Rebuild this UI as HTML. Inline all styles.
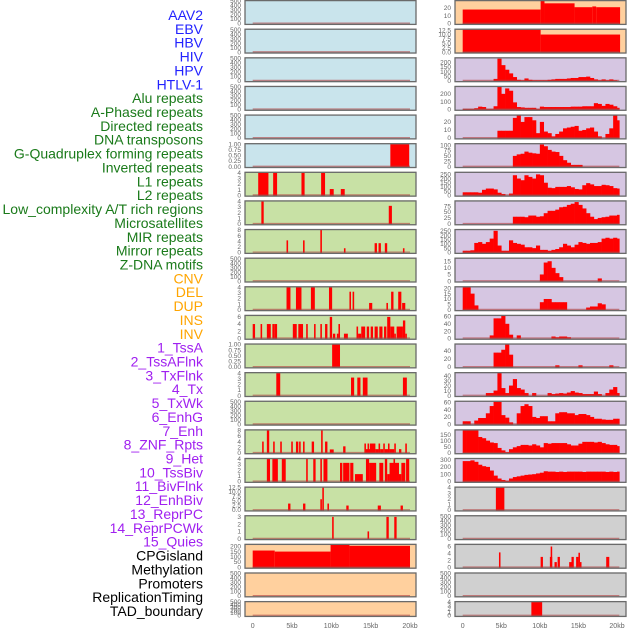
<!DOCTYPE html>
<html><head><meta charset="utf-8"><style>
html,body{margin:0;padding:0;background:#fff;}
svg{display:block;font-family:"Liberation Sans",sans-serif;}
</style></head><body>
<svg id="chart" width="630" height="630" viewBox="0 0 630 630"></svg>
<script>
const labelNames = ["AAV2","EBV","HBV","HIV","HPV","HTLV-1","Alu repeats","A-Phased repeats","Directed repeats","DNA transposons","G-Quadruplex forming repeats","Inverted repeats","L1 repeats","L2 repeats","Low_complexity A/T rich regions","Microsatellites","MIR repeats","Mirror repeats","Z-DNA motifs","CNV","DEL","DUP","INS","INV","1_TssA","2_TssAFlnk","3_TxFlnk","4_Tx","5_TxWk","6_EnhG","7_Enh","8_ZNF_Rpts","9_Het","10_TssBiv","11_BivFlnk","12_EnhBiv","13_ReprPC","14_ReprPCWk","15_Quies","CPGisland","Methylation","Promoters","ReplicationTiming","TAD_boundary"];
const labelGroups = ["v","v","v","v","v","v","r","r","r","r","r","r","r","r","r","r","r","r","r","s","s","s","s","s","c","c","c","c","c","c","c","c","c","c","c","c","c","c","c","o","o","o","o","o"];
const xTickLabels = ["0","5kb","10kb","15kb","20kb"];
const xTickValues = [0,5,10,15,20];
const E = ["0","100","200","300","400","500"];
const leftTicks = [E,E,E,E,E,["0.00","0.25","0.50","0.75","1.00"],["0","1","2","3","4"],["0","1","2","3","4"],["0","2","4","6","8"],E,["0","1","2","3","4"],["0","2","4","6"],["0.00","0.25","0.50","0.75","1.00"],["0","1","2","3","4"],E,["0","2","4","6","8"],["0","1","2","3","4"],["0.0","2.5","5.0","7.5","10.0","12.5"],["0","1","2","3"],["0","50","100","150","200"],E,E];
const leftMax = [500,500,500,500,500,1,4,4,8,500,4,6.3,1,4,500,8,4,12.5,3.1,215,500,500];
const leftSegs = [[],[],[],[],[],
[[17.5,19.9,1]],
[[0.7,2.0,4],[2.6,3.1,4],[6.2,6.6,4],[8.7,9.2,4],[9.8,10.3,1.1],[11.2,11.7,1.1]],
[[1.1,1.4,4],[17.3,17.7,3.2]],
[[4.3,4.5,4.3],[6.4,6.6,4.3],[8.6,8.8,8],[11.6,11.8,1.5],[15.5,15.8,3.3],[16.0,16.3,3.3],[16.8,17.1,3.3],[19.1,19.3,1.5]],
[],
[[4.3,4.8,4],[5.5,6.2,4],[7.4,7.9,4],[9.7,10.1,4],[12.3,12.5,3.2],[12.7,12.9,3.2],[14.8,15.2,1.2],[17.0,17.2,1.2],[17.6,17.9,3.2],[18.5,18.9,3.2],[19.0,19.4,1.2]],
[[0,0.3,4],[1,1.2,4],[1.8,2.3,4],[2.5,2.8,4],[2.8,3.1,4],[5.1,5.6,4],[5.8,6.4,4],[6.8,7.0,4],[7.8,8.0,4],[8.6,8.8,4],[9.2,9.5,4],[9.8,10.1,6],[10.2,10.5,1.3],[10.7,10.9,1.3],[10.9,11.1,4],[11.6,12.1,1.3],[13.2,13.4,3.3],[13.4,13.8,1.3],[13.8,14.3,3.3],[14.5,14.8,3.3],[15.0,15.3,3.3],[15.5,15.9,3.3],[16.1,16.5,3.3],[16.7,17.0,3.3],[17.1,17.5,6],[17.5,18.0,3.3],[18.0,18.2,1.3],[18.3,19.1,3.3],[19.1,19.4,5],[19.4,19.6,1.3]],
[[10.1,11.1,1]],
[[3.0,3.5,4],[12.5,12.9,3.2],[13.3,13.7,3.2],[14.0,14.6,3.2],[19.1,19.6,3.2]],
[],
[[1.2,1.4,4],[1.8,2.1,8],[2.6,2.8,4],[3.5,3.7,4],[4.9,5.1,4],[5.5,5.8,4],[5.9,6.1,4],[6.4,6.6,4],[7.5,7.8,4],[8.7,8.9,8],[9.2,9.5,4],[9.8,10.3,1.2],[11.5,11.8,2.3],[14.2,14.4,3.3],[14.4,15.0,1.3],[14.6,14.8,3.3],[14.9,15.6,3.3],[15.6,16.0,1.3],[16.0,16.2,3.3],[16.2,16.6,1.3],[16.6,16.8,3.3],[16.8,17.2,1.3],[17.2,17.4,3.3],[17.4,18.0,1.3],[18.0,18.2,3.3],[18.6,18.9,1.3],[19.4,19.6,3.3]],
[[1.8,2.2,4],[2.5,3.2,4],[3.7,4.2,4],[6.8,7.0,4],[7.7,8.0,4],[8.6,8.8,4],[9.0,9.5,4],[11.1,11.4,3.3],[11.5,12.3,3.3],[12.4,12.8,3.3],[13.0,14.0,1.3],[14.4,14.8,4],[14.8,15.7,3.3],[16.1,16.6,3.3],[16.8,17.1,4],[17.1,17.4,1.3],[17.4,18.6,3.3],[17.9,18.1,4],[18.6,18.9,1.3],[18.9,19.4,3.3],[19.5,19.9,4]],
[[4.5,4.8,3.6],[6.4,6.7,3.6],[8.6,8.8,6],[8.85,9.05,12.5],[9.5,9.7,3.6],[11.9,12.2,2.5],[15.9,16.3,2.5],[18.8,19.1,2.5]],
[[10.1,10.3,3],[14.6,14.8,1],[17.0,17.3,3],[18.0,18.3,3]],
[[0,2.8,160],[2.8,9.9,150],[9.9,12.3,215],[12.3,20,205]],
[],[]];
const rightTicks = [["0","10","20"],["0.0","2.5","5.0","7.5","10.0","12.5"],["0","50","100","150","200"],["0","100","200"],["0","10","20"],["0","25","50","75","100"],["0","50","100","150","200","250"],["0","25","50","75"],["0","50","100","150","200","250"],["0","5","10","15"],["0","5","10","15","20"],["0","20","40","60"],["0","20","40"],["0","10","20","30","40"],["0","20","40","60"],["0","50","100","150"],["0","100","200","300"],["0","1","2","3","4"],E,["0","2","4","6"],E,["0","1","2","3","4"]];
const rightMax = [29,12.8,245,290,28,105,270,95,260,17,21,62,55,45,62,185,310,4,500,6.5,500,4];
const rightSegs = [
[[0,10.1,18],[10.1,10.6,29],[10.6,14.5,26],[14.5,16.8,21],[16.8,17.3,22],[17.3,20.4,21]],
[[0,10.1,12.8],[10.1,20.4,10]],
[],[],[],[],[],[],[],[],[],[],[],[],[],[],[],
[[4.3,5.4,4]],
[],
[[4.7,4.9,4.3],[10.1,10.4,3],[11.3,11.6,3],[11.4,11.6,6],[11.9,12.2,1.5],[12.3,12.6,3],[13.8,14.3,1.5],[14.1,14.4,3],[14.7,15.0,3],[15.0,15.2,4.2],[15.2,15.4,1.5],[18.6,19.0,3]],
[],
[[8.9,10.3,4]]];
const binTssA = [0,0,0,0,0,0,0,0,20,240,170,120,80,40,10,5,25,10,5,5,5,5,10,15,20,20,20,25,30,30,40,40,45,30,15,5,15,5,15,5,0];
const binTssAFlnk = [5,5,5,15,35,30,5,5,40,290,200,270,240,90,30,25,20,20,20,5,35,30,30,30,30,30,30,30,35,35,35,40,40,40,80,70,45,70,60,40,20];
const binTxFlnk = [0,0,0,0,0,0,0,0,0,9,9,9,9,25,28,20,26,26,22,6,20,8,6,2,5,8,12,13,14,15,9,10,12,13,8,2,0,5,12,28,22];
const binTx = [0,0,0,0,0,0,0,0,0,0,0,0,0,50,57,60,70,65,62,60,103,95,78,70,68,50,30,18,8,8,8,0,0,0,0,0,0,0,0,0,0];
const binTxWk = [35,35,35,35,30,65,80,80,70,30,15,0,20,240,200,180,240,220,200,250,240,150,90,85,100,100,100,110,95,75,70,120,145,130,110,110,125,120,110,85,80];
const binEnhG = [0,0,0,0,0,0,0,0,0,0,0,0,0,30,30,30,28,35,35,30,32,45,55,55,60,70,72,80,85,92,80,65,45,30,20,25,28,30,35,35,38];
const binEnh = [20,20,25,110,120,100,120,160,250,80,20,20,140,110,100,90,60,60,50,80,30,30,20,30,40,60,100,80,60,90,120,110,100,110,110,120,160,170,160,170,160];
const binZNF = [0,0,0,0,0,0,0,0,0,0,0,0,0,0,0,0,0,0,0,0,5,14,15,10,6,3,0,0,0,0,0,0,0,0,0,2,0,0,0,0,0];
const binHet = [21,21,15,4,0,0,0,0,0,0,0,0,0,0,0,0,0,0,0,0,7,10,10,7,7,7,7,0,0,0,0,0,2,3,3,6,5,0,0,0,0];
const binTssBiv = [0,0,0,0,0,0,0,8,55,55,62,40,10,0,8,0,0,0,0,0,0,0,0,5,3,5,5,3,0,0,0,0,0,0,0,0,0,0,0,0,0];
const binBivFlnk = [0,0,0,0,0,0,0,0,35,35,42,55,30,0,0,0,0,0,0,0,0,0,0,0,4,0,0,0,0,0,4,0,0,0,0,0,0,0,4,0,0];
const binEnhBiv = [0,0,0,0,0,0,5,5,10,45,15,5,20,33,15,12,5,0,5,0,0,0,5,3,4,5,4,6,9,6,5,3,3,3,8,3,0,5,12,17,5];
const binReprPC = [8,8,0,10,17,17,30,50,62,62,25,18,5,0,30,50,55,50,20,17,22,22,8,8,30,33,33,30,30,25,28,28,25,20,15,15,13,12,12,15,15];
const binReprPCWk = [185,185,185,185,130,120,100,85,80,40,20,5,30,45,55,65,65,60,70,60,45,80,75,80,80,80,80,70,60,60,75,90,90,90,85,90,80,70,65,65,55];
const binQuies = [280,280,290,270,230,210,200,150,80,40,20,10,40,60,70,80,90,95,100,110,120,140,135,135,130,135,130,135,135,135,135,130,135,135,135,135,135,130,135,130,135];
const rightBins = [null,null,binTssA,binTssAFlnk,binTxFlnk,binTx,binTxWk,binEnhG,binEnh,binZNF,binHet,binTssBiv,binBivFlnk,binEnhBiv,binReprPC,binReprPCWk,binQuies,null,null,null,null,null];

const NS = "http://www.w3.org/2000/svg";
const svg = document.getElementById("chart");
function mk(tag, attrs, parent) {
  const el = document.createElementNS(NS, tag);
  for (const k in attrs) el.setAttribute(k, attrs[k]);
  (parent || svg).appendChild(el);
  return el;
}
const groupColor = {v:"#2222ff", r:"#1a7a1a", s:"#ffa500", c:"#a020f0", o:"#000000"};
labelNames.forEach((name, i) => {
  const t = mk("text", {x:203, y:20 + i*13.86, "text-anchor":"end", "font-size":"14", fill:groupColor[labelGroups[i]]});
  t.textContent = name;
  
  
});
const cols = [
  {x0:245, x1:416, ox:252.7, kb:7.865, tickX:241, end:20.0, ticks:leftTicks, max:leftMax, segs:leftSegs, bins:null,
   bg:i => i<6 ? "#c9e4ec" : (i<19 ? "#c8e1a5" : "#ffd09e")},
  {x0:455, x1:626, ox:462.7, kb:7.715, tickX:451, end:20.3, ticks:rightTicks, max:rightMax, segs:rightSegs, bins:rightBins,
   bg:i => i<2 ? "#ffd09e" : (i<17 ? "#d6c6e2" : "#d0d0d0")}
];
cols.forEach((c, ci) => {
  const X = kb => c.ox + kb*c.kb;
  for (let i = 0; i < 22; i++) {
    const top = i*28.62;
    const h = i === 21 ? 16 : 25;
    const g = mk("g", {});
    
    
    const bg = mk("rect", {x:c.x0, y:top, width:c.x1-c.x0, height:h, fill:c.bg(i)}, g);
    
    
    const max = c.max[i];
    const Y = v => top + h - 1.5 - (v/max)*(h - 2.5);
    // bins
    const bins = c.bins ? c.bins[i] : null;
    if (bins) {
      bins.forEach((v, b) => {
        if (v <= 0) return;
        const a = b*0.5, e = Math.min((b+1)*0.5, c.end);
        const r = mk("rect", {x:X(a), y:Y(v), width:X(e)-X(a)+0.3, height:top+h-1-Y(v), fill:"#ff0000"}, g);
        
        
      });
    }
    c.segs[i].forEach(s => {
      const r = mk("rect", {x:X(s[0]), y:Y(s[2]), width:Math.max(1, X(s[1])-X(s[0])), height:top+h-1-Y(s[2]), fill:"#ff0000"}, g);
      
      
    });
    const base = mk("line", {x1:X(0), x2:X(c.end), y1:top+h-1.8, y2:top+h-1.8, stroke:"#b04040", "stroke-opacity":"0.6", "stroke-width":"1.3"}, g);
    
    
    const fr = mk("rect", {x:c.x0, y:top+0.6, width:c.x1-c.x0, height:h-1.2, fill:"none", stroke:"#6a6a6a", "stroke-width":"1.3"}, g);
    
    
    c.ticks[i].forEach(lbl => {
      const v = parseFloat(lbl);
      const t = mk("text", {x:c.tickX, y:Y(v)+2.2, "text-anchor":"end", "font-size":"6.5", fill:"#666"}, g);
      t.textContent = lbl;
      
      
    });
  }
  xTickValues.forEach((v, k) => {
    const t = mk("text", {x:X(v), y:628, "text-anchor":"middle", "font-size":"7", fill:"#666"});
    t.textContent = xTickLabels[k];
    
    
  });
});
</script>
</body></html>
